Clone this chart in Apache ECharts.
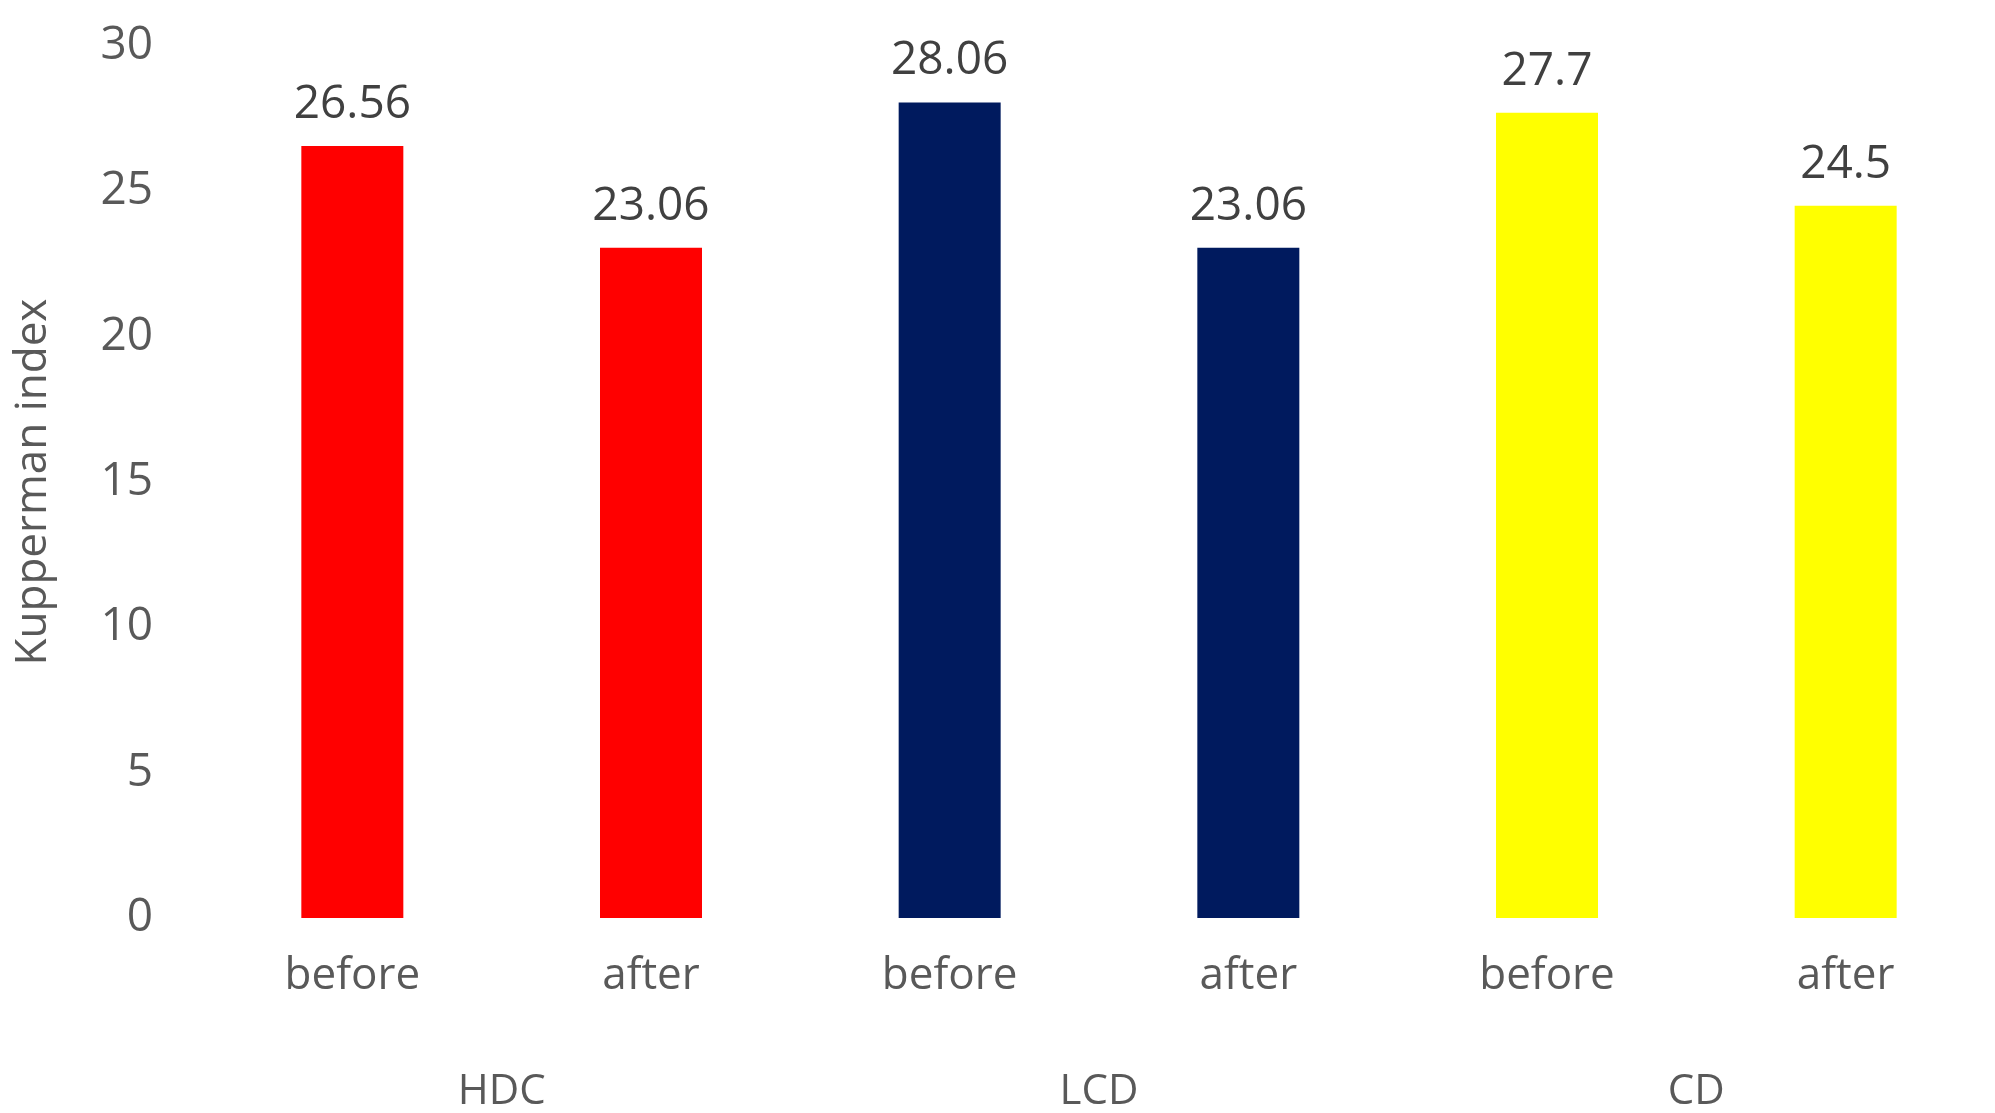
<!DOCTYPE html>
<html><head><meta charset="utf-8">
<script src="https://cdn.jsdelivr.net/npm/echarts@6/dist/echarts.min.js"></script>
<style>html,body{margin:0;padding:0;background:#fff}#c{width:1995px;height:1113px}</style>
</head><body><div id="c"></div>
<script>
const categories = ['before','after','before','after','before','after'];
const groups = ['HDC','LCD','CD'];
const values = [26.56, 23.06, 28.06, 23.06, 27.7, 24.5];
const colors = ['#FF0000','#FF0000','#001A5E','#001A5E','#FFFF00','#FFFF00'];
const yTicks = {min:0, max:30, interval:5};
const font = '"Open Sans", "Noto Sans", sans-serif';
const chart = echarts.init(document.getElementById('c'));
chart.setOption({
  animation:false,
  grid:{left:203, top:46, width:1975, height:876},
  xAxis:[
    {type:'category', data:categories, axisLine:{show:false}, axisTick:{show:false},
     axisLabel:{color:'#595959', fontSize:44, fontFamily:font, margin:36}},
    {type:'category', data:groups, position:'bottom', offset:145, axisLine:{show:false}, axisTick:{show:false},
     axisLabel:{color:'#595959', fontSize:42, fontFamily:font}}
  ],
  yAxis:{type:'value', min:yTicks.min, max:yTicks.max, interval:yTicks.interval,
    splitLine:{show:false}, axisLine:{show:false}, axisTick:{show:false},
    axisLabel:{color:'#595959', fontSize:46, fontFamily:font, margin:50},
    name:'Kupperman index', nameLocation:'middle', nameGap:148, nameRotate:90,
    nameTextStyle:{color:'#595959', fontSize:44, fontFamily:font}},
  series:[{type:'bar', xAxisIndex:0, barWidth:102,
    data:values.map((v,i)=>({value:v, itemStyle:{color:colors[i]}})),
    label:{show:true, position:'top', distance:18, color:'#404040', fontSize:46, fontFamily:font}}]
});
</script></body></html>
